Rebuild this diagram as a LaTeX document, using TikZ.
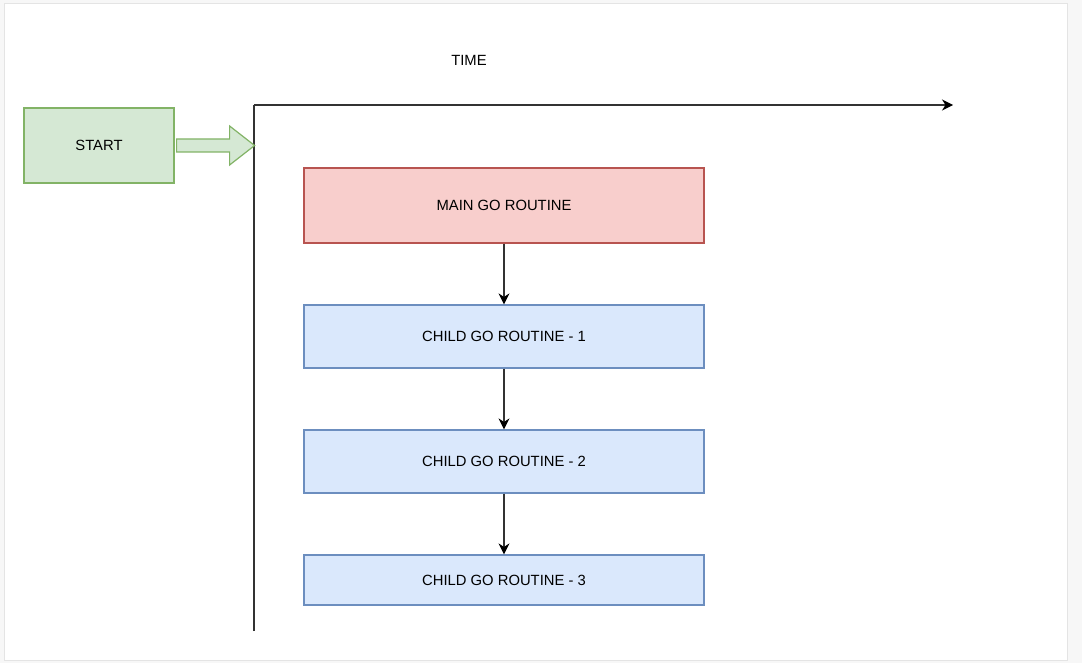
\documentclass[tikz,border=0pt]{standalone}
\usepackage{fontspec}
\setmainfont{Liberation Sans}
\usetikzlibrary{arrows.meta}
\definecolor{greenfill}{HTML}{D5E8D4}
\definecolor{greenline}{HTML}{82B366}
\definecolor{redfill}{HTML}{F8CECC}
\definecolor{redline}{HTML}{B85450}
\definecolor{bluefill}{HTML}{DAE8FC}
\definecolor{blueline}{HTML}{6C8EBF}
\definecolor{pagebg}{HTML}{F7F7F7}
\definecolor{pageedge}{HTML}{E4E4E4}
\definecolor{linecol}{HTML}{333333}
\tikzset{
  box/.style={draw, line width=1.2pt, minimum width=400pt, inner sep=0pt, font=\fontsize{14.8}{17}\selectfont},
  greenbox/.style={box, fill=greenfill, draw=greenline, minimum width=150pt, minimum height=75pt},
  mainbox/.style={box, fill=redfill, draw=redline, minimum height=75pt},
  childbox/.style={box, fill=bluefill, draw=blueline},
  flow/.style={draw=linecol, line width=1.3pt, -{Stealth[length=11pt,width=11pt,inset=3.5pt,color=black]}},
}
\begin{document}
\begin{tikzpicture}[x=1pt,y=-1pt]
\useasboundingbox (0,0) rectangle (1082,663);
\fill[pagebg] (0,0) rectangle (1082,663);
\filldraw[fill=white, draw=pageedge, line width=1pt] (4,4) rectangle (1067,660);
% axes
\coordinate (origin) at (254,105);
\coordinate (timeend) at (953,105);
\coordinate (axisbottom) at (254,631);
\draw[linecol, line width=1.3pt] (axisbottom) -- (origin);
\draw[flow] (origin) -- (timeend);
\node[font=\fontsize{14.8}{17}\selectfont] (time) at (469,60) {TIME};
% start
\node[greenbox] (start) at (99,145.5) {START};
\filldraw[fill=greenfill, draw=greenline, line width=1.2pt]
  ([xshift=2pt,yshift=6.5pt]start.east) -- ++(53,0) -- ++(0,-13) -- ++(25,19.5)
  -- ++(-25,19.5) -- ++(0,-13) -- ++(-53,0) -- cycle;
% boxes
\node[mainbox] (main) at (504,205.5) {MAIN GO ROUTINE};
\node[childbox, minimum height=63pt] (c1) at (504,336.5) {CHILD GO ROUTINE - 1};
\node[childbox, minimum height=63pt] (c2) at (504,461.5) {CHILD GO ROUTINE - 2};
\node[childbox, minimum height=50pt] (c3) at (504,580) {CHILD GO ROUTINE - 3};
\draw[flow] (main) -- (c1);
\draw[flow] (c1) -- (c2);
\draw[flow] (c2) -- (c3);
\end{tikzpicture}
\end{document}
